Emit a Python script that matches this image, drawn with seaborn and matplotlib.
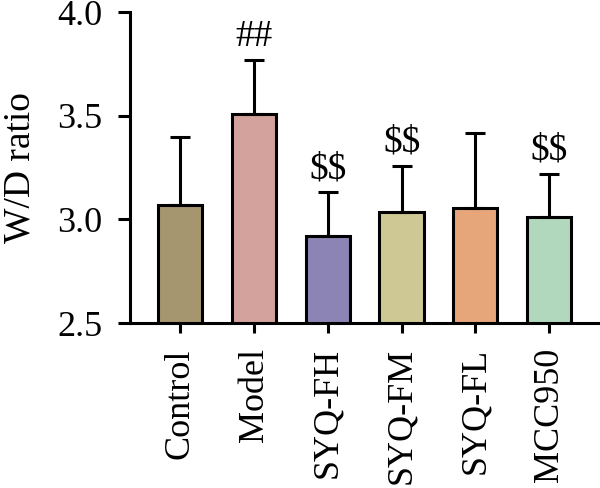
import matplotlib
matplotlib.use("Agg")
import matplotlib.pyplot as plt
import seaborn as sns
import pandas as pd

# values
groups = ["Control", "Model", "SYQ-FH", "SYQ-FM", "SYQ-FL", "MCC950"]
means = [3.07, 3.51, 2.92, 3.035, 3.055, 3.01]
sd = [0.33, 0.26, 0.21, 0.225, 0.36, 0.21]
marks = ["", "##", "\\$\\$", "\\$\\$", "", "\\$\\$"]
colors = ["#A59670", "#D4A29C", "#8C84B4", "#CEC894", "#E7A57A", "#B1D8BD"]

sns.set_style("ticks")
plt.rcParams["font.family"] = ["Liberation Serif", "DejaVu Serif"]
plt.rcParams["text.color"] = "black"
plt.rcParams["axes.labelcolor"] = "black"
plt.rcParams["xtick.color"] = "black"
plt.rcParams["ytick.color"] = "black"
plt.rcParams["axes.edgecolor"] = "black"

df = pd.DataFrame({"group": groups, "ratio": means})

fig = plt.figure(figsize=(6, 4.88), dpi=100)
ax = fig.add_axes([0.217, 0.338, 0.783, 0.637])

sns.barplot(data=df, x="group", y="ratio", hue="group", palette=colors,
            saturation=1, width=0.6, edgecolor="black", linewidth=2.2,
            legend=False, ax=ax)

# one-sided error bars (upward only)
ax.errorbar(range(len(groups)), means, yerr=[[0] * len(sd), sd], fmt="none",
            ecolor="black", elinewidth=2.2, capsize=7.5, capthick=2.2, zorder=1)

for i, (m, s, t) in enumerate(zip(means, sd, marks)):
    if t:
        ax.text(i, m + s + 0.03, t, ha="center", va="bottom", fontsize=27)

ax.set_ylim(2.5, 4.0)
ax.set_yticks([2.5, 3.0, 3.5, 4.0])
ax.set_yticklabels(["2.5", "3.0", "3.5", "4.0"])
ax.set_xlim(-0.68, 5.69)
ax.set_xlabel("")
ax.set_ylabel("W/D ratio", fontsize=27, labelpad=14)
ax.tick_params(axis="y", labelsize=26, width=2.2, length=9, pad=11)
ax.tick_params(axis="x", labelsize=26, width=2.2, length=7, pad=11,
               labelrotation=90)
for side in ["left", "bottom"]:
    ax.spines[side].set_linewidth(2.2)
sns.despine(ax=ax)

fig.savefig("out.png", dpi=100)
